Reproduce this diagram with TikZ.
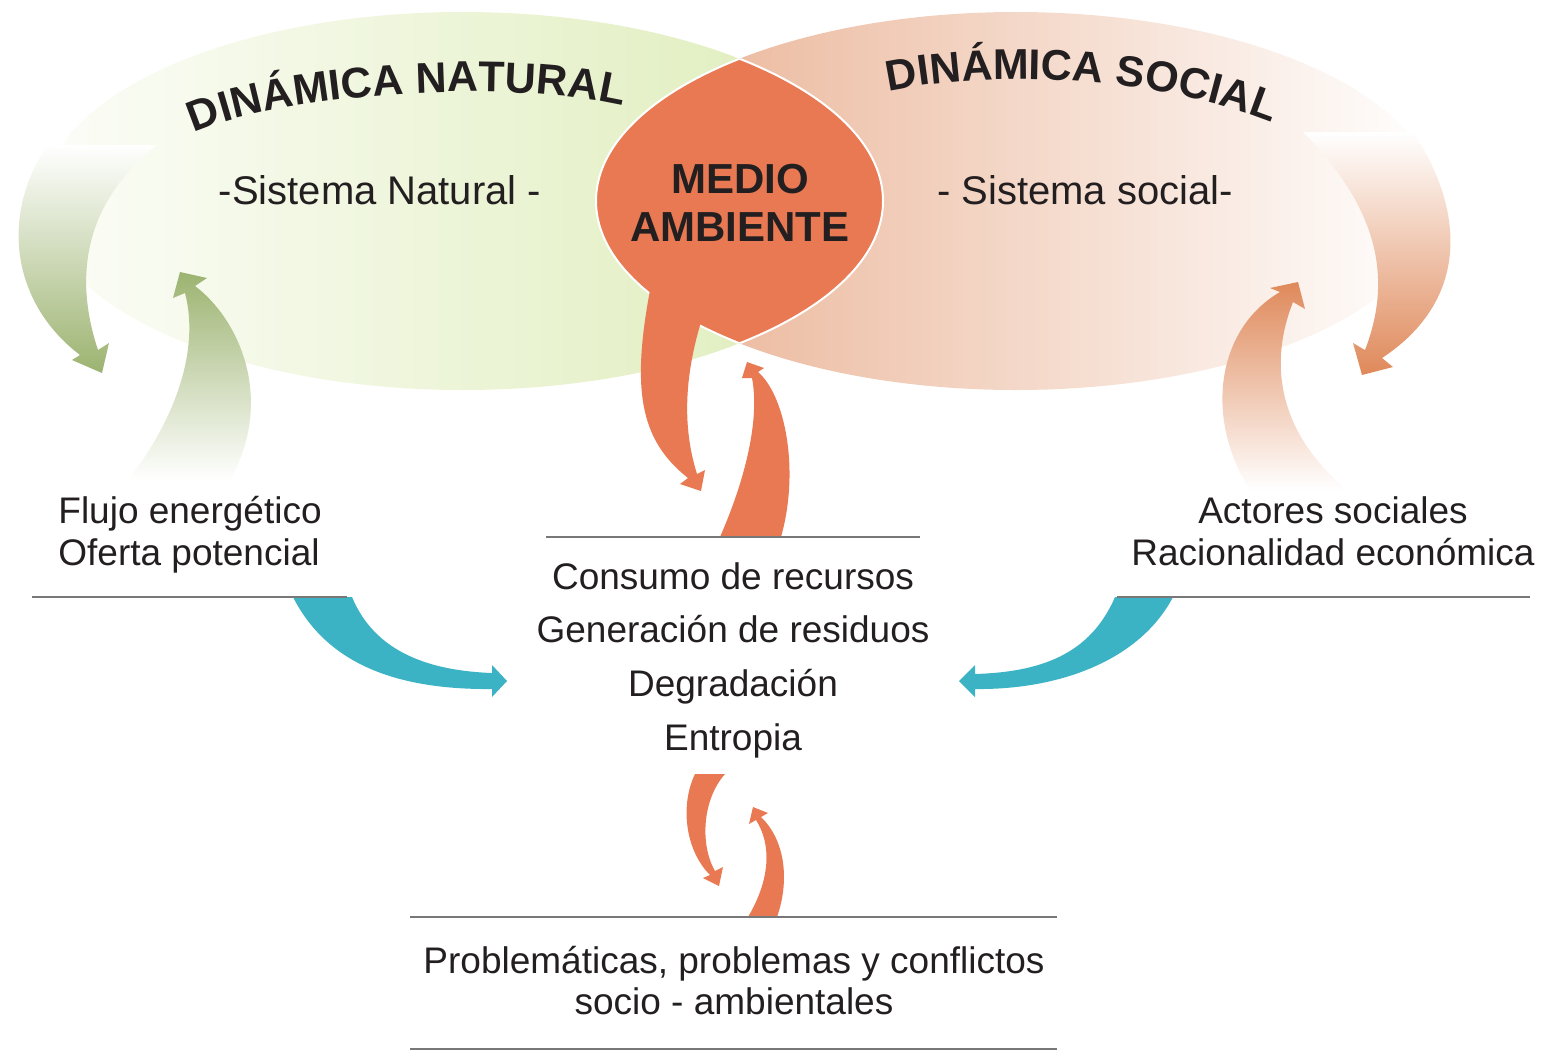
\documentclass[tikz,border=0pt]{standalone}
\usepackage{fontspec}
\setmainfont{Liberation Sans}
\usetikzlibrary{decorations.text}

\definecolor{inkblack}{RGB}{35,31,32}
\definecolor{lensorange}{RGB}{232,121,82}
\definecolor{flowteal}{RGB}{60,179,196}
\definecolor{natwhite}{RGB}{252,253,248}
\definecolor{natlight}{RGB}{221,236,183}
\definecolor{natarrow}{RGB}{156,179,112}
\definecolor{soclight}{RGB}{233,176,145}
\definecolor{socarrow}{RGB}{223,137,90}
\definecolor{rulegray}{RGB}{120,120,120}

\newcommand{\titlefont}{\fontsize{21.5}{26}\selectfont\bfseries}

\tikzset{
  txt/.style={font=\fontsize{18.5}{22}\selectfont,text=inkblack,inner sep=0pt,anchor=base},
  systxt/.style={txt,font=\fontsize{20}{24}\selectfont},
  bigtxt/.style={txt,font=\fontsize{21}{25}\selectfont\bfseries},
  rule/.style={draw=rulegray,line width=1pt},
  ambarrow/.style={fill=lensorange},
  flowarrow/.style={fill=flowteal}
}

\begin{document}
\begin{tikzpicture}[x=0.5pt,y=-0.5pt]

  \useasboundingbox (0,0) rectangle (1542,1051);

  % Ellipses of both systems and the lens between them
  \shade[left color=natwhite,right color=natlight] (463,201) ellipse [x radius=420,y radius=189];
  \shade[left color=soclight,right color=white] (1016,201) ellipse [x radius=420,y radius=189];

  \begin{scope}
    \clip (463,201) ellipse [x radius=420,y radius=189];
    \fill[lensorange] (1016,201) ellipse [x radius=420,y radius=189];
    \draw[white,line width=1] (1016,201) ellipse [x radius=420,y radius=189];
  \end{scope}
  \begin{scope}
    \clip (1016,201) ellipse [x radius=420,y radius=189];
    \draw[white,line width=1] (463,201) ellipse [x radius=420,y radius=189];
  \end{scope}

  % Side arrows (faded)
  \shade[top color=white,bottom color=natarrow]
    (48,145) -- (157,145) .. controls (75,210) and (78,290) .. (98,350)
    -- (109,343) -- (102,373) -- (72,360) -- (80,355)
    .. controls (8,300) and (2,210) .. (48,145) -- cycle;
  \shade[top color=natarrow,bottom color=white]
    (128,480) .. controls (175,420) and (200,350) .. (185,293)
    -- (173,298) -- (180,272) -- (207,278) -- (195,286)
    .. controls (240,320) and (275,400) .. (230,480) -- cycle;
  \shade[top color=white,bottom color=socarrow]
    (1303,132) -- (1413,132) .. controls (1465,210) and (1470,300) .. (1382,358)
    -- (1393,367) -- (1362,375) -- (1353,343) -- (1365,350)
    .. controls (1392,280) and (1380,210) .. (1303,132) -- cycle;
  \shade[top color=socarrow,bottom color=white]
    (1250,490) .. controls (1205,420) and (1215,330) .. (1280,292)
    -- (1270,288) -- (1298,282) -- (1305,309) -- (1293,302)
    .. controls (1270,360) and (1275,430) .. (1347,490) -- cycle;

  % Arrows around the centre
  \fill[ambarrow] (652,280) .. controls (630,390) and (640,440) .. (688,478)
    -- (680,484) -- (701,491) -- (705,470) -- (697,474)
    .. controls (680,420) and (685,360) .. (712,290) -- cycle;
  \fill[ambarrow] (720,537) .. controls (745,480) and (760,420) .. (752,378)
    -- (742,378) -- (747,362) -- (764,368) -- (758,372)
    .. controls (785,395) and (800,470) .. (781,537) -- cycle;
  \fill[ambarrow] (695,774) .. controls (680,805) and (685,850) .. (710,875)
    -- (703,878) -- (719,886) -- (723,867) -- (715,871)
    .. controls (700,845) and (702,800) .. (725,774) -- cycle;
  \fill[ambarrow] (748,917) .. controls (770,880) and (772,845) .. (756,820)
    -- (749,824) -- (753,807) -- (768,813) -- (761,817)
    .. controls (785,840) and (790,880) .. (777,917) -- cycle;
  \fill[flowarrow] (293,597) .. controls (325,660) and (390,690) .. (492,689)
    -- (492,697) -- (507,681) -- (492,665) -- (492,673)
    .. controls (410,670) and (370,640) .. (352,597) -- cycle;
  \fill[flowarrow] (1115,597) .. controls (1090,655) and (1040,672) .. (975,674)
    -- (975,665) -- (959,681) -- (975,697) -- (975,689)
    .. controls (1060,690) and (1140,660) .. (1173,597) -- cycle;

  % Curved titles
  \path[decorate,decoration={text along path,text color=inkblack,text align=center,
    text={|\titlefont|DINÁMICA NATURAL}}]
    (197,132) .. controls (280,95) and (500,78) .. (620,105);
  \path[decorate,decoration={text along path,text color=inkblack,text align=center,
    text={|\titlefont|DINÁMICA SOCIAL}}]
    (891,91) .. controls (990,70) and (1150,75) .. (1270,122);

  % Specification of nodes (position, etc.)
  \node[systxt] (natsys) at (380,204) {-Sistema Natural -};
  \node[systxt] (socsys) at (1085,204) {- Sistema social-};
  \node[bigtxt] (medio) at (740,193) {MEDIO};
  \node[bigtxt] (ambiente) at (740,241) {AMBIENTE};

  \node[txt,anchor=base west] (flujo) at (58,523) {Flujo energético};
  \node[txt,anchor=base west] (oferta) at (58,565) {Oferta potencial};
  \node[txt] (actores) at (1333,523) {Actores sociales};
  \node[txt] (racional) at (1333,565) {Racionalidad económica};

  \node[txt] (consumo) at (733,589) {Consumo de recursos};
  \node[txt] (generacion) at (733,642) {Generación de residuos};
  \node[txt] (degradacion) at (733,696) {Degradación};
  \node[txt] (entropia) at (733,750) {Entropia};

  \node[txt] (problemas) at (734,973) {Problemáticas, problemas y conflictos};
  \node[txt] (socioamb) at (734,1014) {socio - ambientales};

  % Rules
  \draw[rule] (32,597) -- (347,597);
  \draw[rule] (1117,597) -- (1530,597);
  \draw[rule] (546,537) -- (920,537);
  \draw[rule] (410,917) -- (1057,917);
  \draw[rule] (410,1049) -- (1057,1049);

\end{tikzpicture}
\end{document}
